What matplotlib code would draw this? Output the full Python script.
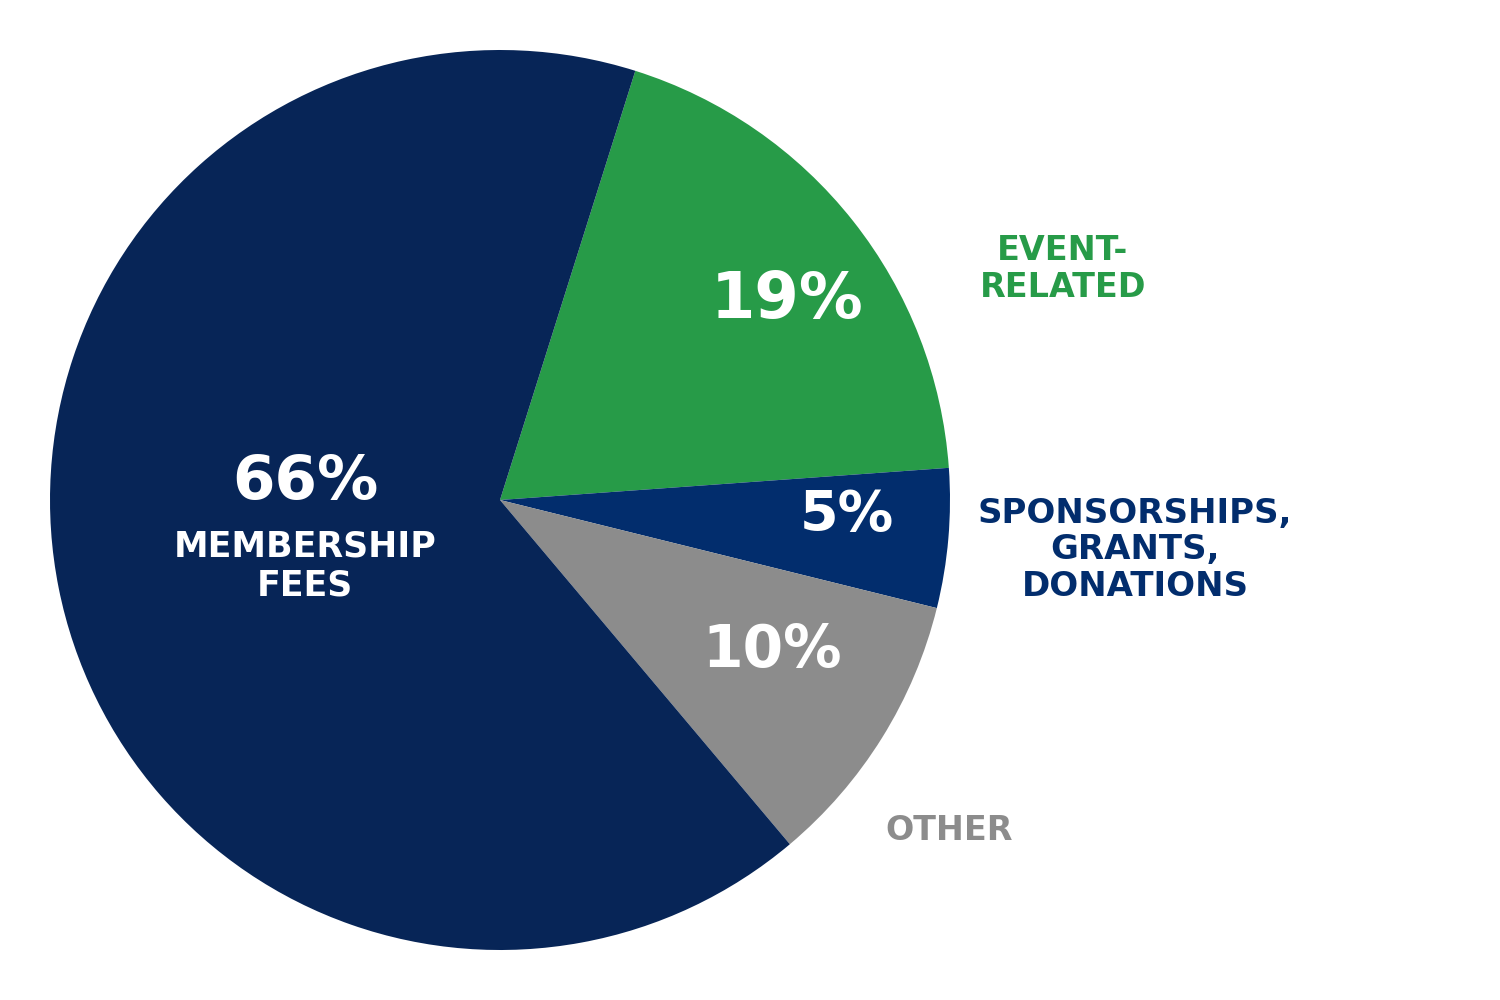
import matplotlib
matplotlib.use("Agg")
import matplotlib.pyplot as plt

# slice data (clockwise from the top boundary)
categories = ["EVENT-\nRELATED", "SPONSORSHIPS,\nGRANTS,\nDONATIONS", "OTHER", "MEMBERSHIP\nFEES"]
shares = [19, 5, 10, 66]
pct_labels = ["19%", "5%", "10%", "66%"]
colors = ["#279b48", "#022d6d", "#8c8c8c", "#072557"]

plt.rcParams["font.family"] = ["DejaVu Sans"]

fig = plt.figure(figsize=(15, 10), dpi=100)
ax = fig.add_axes([0, 0, 1, 1])

ax.pie(shares, colors=colors, startangle=-72.5, counterclock=True,
       center=(500, 500), radius=450, frame=True,
       wedgeprops=dict(linewidth=0))
ax.set_xlim(0, 1500)
ax.set_ylim(1000, 0)
ax.set_aspect("equal")
ax.axis("off")

# percentage labels inside the slices
pct_pos = [(787, 300, 46), (847, 515, 40), (772, 650, 42), (305, 482, 44)]
for (x, y, fs), t in zip(pct_pos, pct_labels):
    ax.text(x, y, t, color="white", fontsize=fs, fontweight="bold",
            ha="center", va="center")

# category labels
ax.text(305, 566, categories[3], color="white", fontsize=25, fontweight="bold",
        ha="center", va="center", linespacing=1.15)
ax.text(1063, 269, categories[0], color=colors[0], fontsize=24, fontweight="bold",
        ha="center", va="center", linespacing=1.17)
ax.text(1135, 550, categories[1], color=colors[1], fontsize=24.5, fontweight="bold",
        ha="center", va="center", linespacing=1.15)
ax.text(949, 830, categories[2], color=colors[2], fontsize=24, fontweight="bold",
        ha="center", va="center")

fig.savefig("out.png", dpi=100, facecolor="white")
